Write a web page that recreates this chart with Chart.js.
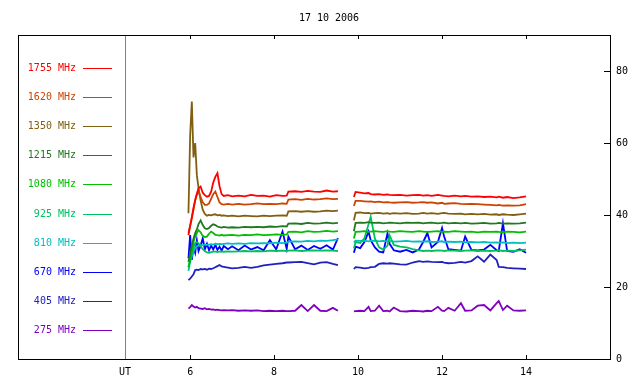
<!DOCTYPE html>
<html>
<head>
<meta charset="utf-8">
<script src="https://cdn.jsdelivr.net/npm/chart.js@4"></script>
<style>
  body { margin: 0; background: #fff; }
</style>
</head>
<body>
<canvas id="grafico" width="640" height="384"></canvas>
<script>
// ======================
// Dados (UT em horas, fluxo em sfu)
// ======================
const titulo = "17 10 2006";
const xTicks = [6, 8, 10, 12, 14];
const yTicks = [0, 20, 40, 60, 80];
const posUT = 4.45; // onde fica o rótulo "UT" / linha separadora

const tempos = [
  5.96, 6.0, 6.04, 6.08, 6.12, 6.16, 6.2, 6.25, 6.3, 6.35,
  6.4, 6.45, 6.5, 6.55, 6.6, 6.65, 6.7, 6.75, 6.8, 6.9,
  7.0, 7.15, 7.3, 7.45, 7.6, 7.75, 7.9, 8.05, 8.2, 8.3,
  8.34, 8.5, 8.65, 8.8, 8.95, 9.1, 9.25, 9.4, 9.52, 9.7,
  9.9, 9.94, 10.05, 10.15, 10.25, 10.3, 10.4, 10.5, 10.6, 10.7,
  10.75, 10.85, 11.0, 11.15, 11.3, 11.45, 11.55, 11.65, 11.75, 11.9,
  12.0, 12.05, 12.15, 12.3, 12.45, 12.55, 12.7, 12.85, 13.0, 13.15,
  13.3, 13.35, 13.45, 13.55, 13.7, 13.85, 14.0
];

const f1755 = [
  34.4, 37, 39.5, 42, 44.2, 46, 47.4, 47.9, 46.2, 45.5,
  45.1, 45.3, 46.5, 49, 50.6, 51.6, 48, 45.8, 45.3, 45.5,
  45.2, 45.4, 45.2, 45.6, 45.3, 45.4, 45.1, 45.5, 45.3, 45.4,
  46.5, 46.6, 46.4, 46.7, 46.5, 46.4, 46.8, 46.5, 46.6, null,
  45.0, 46.4, 46.2, 46.0, 46.1, 45.8, 45.7, 45.8, 45.6, 45.7,
  45.6, 45.5, 45.6, 45.4, 45.5, 45.6, 45.4, 45.5, 45.3, 45.6,
  45.4, 45.3, 45.2, 45.4, 45.2, 45.3, 45.1, 45.2, 45.0, 45.1,
  44.9, 45.1, 44.8, 45.0, 44.7, 44.9, 45.2
];
const f1620 = [
  35, 37, 39, 41.5, 44, 45.6, 46.5, 45, 43.5, 42.8,
  42.8, 43.2, 44.5, 45.8, 46.5, 45, 43.5, 43.0, 42.9, 43.1,
  42.9, 43.1, 42.9, 43.0, 43.2, 43.0, 43.1, 43.0, 43.2, 43.1,
  44.3, 44.4, 44.2, 44.5, 44.3, 44.4, 44.6, 44.4, 44.5, null,
  42.5, 43.9, 43.9, 43.8, 43.7, 43.8, 43.6, 43.7, 43.5, 43.6,
  43.5, 43.4, 43.5, 43.6, 43.4, 43.5, 43.6, 43.4, 43.5, 43.2,
  43.4, 43.1, 43.2, 43.3, 43.1, 43.0, 43.1, 43.0, 42.9, 42.8,
  42.7, 42.8, 42.6, 42.7, 42.6, 42.7, 43.0
];
const f1350 = [
  40.5, 62, 71.5, 56, 60, 51, 47.5, 44, 41.5, 40.3,
  39.8, 40.0, 39.9, 40.1, 40.2, 39.9, 40.0, 39.8, 39.9, 39.7,
  39.8, 39.6, 39.8, 39.7, 39.6, 39.8, 39.7, 39.8, 39.9, 39.8,
  41.0, 41.1, 40.9, 41.1, 40.9, 41.0, 41.2, 41.1, 41.2, null,
  38.5, 40.6, 40.7, 40.5, 40.6, 40.4, 40.5, 40.6, 40.4, 40.5,
  40.3, 40.5, 40.4, 40.5, 40.3, 40.4, 40.6, 40.4, 40.5, 40.3,
  40.5, 40.6, 40.4, 40.3, 40.4, 40.2, 40.3, 40.2, 40.3, 40.1,
  40.2, 40.0, 40.2, 40.1, 40.0, 40.2, 40.4
];
const f1215 = [
  27, 29.5, 31.5, 33.5, 35, 36, 37.5, 38.5, 37.2, 36.3,
  36.1, 36.4, 37.0, 37.4, 37.2, 36.8, 36.6, 36.5, 36.7, 36.5,
  36.6, 36.5, 36.7, 36.6, 36.7, 36.6, 36.8, 36.7, 36.9, 36.8,
  37.6, 37.7, 37.5, 37.8, 37.6, 37.7, 37.9, 37.7, 37.8, null,
  35.5, 37.8, 37.9, 37.8, 38.0, 37.9, 37.8, 37.9, 37.7, 37.8,
  37.9, 37.8, 37.7, 37.9, 37.8, 37.9, 37.7, 37.8, 37.9, 37.7,
  37.8, 37.9, 37.7, 37.8, 37.7, 37.8, 37.6, 37.7, 37.8, 37.6,
  37.7, 37.8, 37.6, 37.7, 37.6, 37.7, 37.9
];
const f1080 = [
  25.5, 27.5, 30, 32.5, 34, 35, 35.8, 35.2, 34.2, 33.9,
  34.0, 34.8, 35.4, 35.0, 34.5, 34.4, 34.3, 34.5, 34.3, 34.4,
  34.5, 34.3, 34.5, 34.4, 34.6, 34.4, 34.5, 34.6, 34.5, 34.6,
  35.3, 35.4, 35.2, 35.5, 35.3, 35.4, 35.6, 35.4, 35.5, null,
  33.5, 35.3, 35.4, 35.5, 35.3, 35.4, 35.5, 35.4, 35.3, 35.5,
  35.4, 35.3, 35.5, 35.4, 35.3, 35.5, 35.4, 35.3, 35.4, 35.5,
  35.3, 35.4, 35.3, 35.5, 35.4, 35.3, 35.4, 35.2, 35.4, 35.3,
  35.4, 35.3, 35.2, 35.4, 35.3, 35.2, 35.4
];
const f925 = [
  25.5, 27.5, 29.5, 31, 32.2, 32.5, 32.1, 31.3, 30.5, 30.0,
  29.6, 29.5, 29.7, 29.8, 29.8, 29.7, 29.8, 29.9, 29.8, 29.9,
  29.8, 29.9, 30.0, 29.9, 30.0, 29.9, 30.1, 30.0, 30.1, 30.0,
  30.1, 30.2, 30.0, 30.1, 30.2, 30.1, 30.2, 30.1, 30.0, null,
  30.7, 32.5, 32.2, 33.5, 37.5, 39.5, 33.5, 31.0, 30.4, 31.5,
  34.4, 31.7, 31.2, 31.0, 30.5, 30.2, 30.0, 30.1, 30.0, 30.2,
  30.1, 30.0, 30.2, 30.1, 30.0, 30.1, 30.2, 30.0, 30.1, 30.0,
  30.1, 30.2, 30.0, 30.1, 30.0, 30.2, 30.4
];
const f810 = [
  24.5, 27, 28.5, 29.8, 30.8, 31.3, 31.6, 31.7, 31.6, 31.8,
  31.7, 31.8, 31.9, 31.8, 32.0, 31.9, 32.0, 31.9, 32.0, 32.1,
  32.0, 32.1, 32.0, 32.2, 32.1, 32.2, 32.1, 32.3, 32.2, 32.3,
  32.6, 32.7, 32.6, 32.8, 32.7, 32.9, 32.8, 33.0, 33.2, null,
  32.4, 32.9, 32.8, 32.9, 32.7, 32.8, 32.9, 32.7, 32.8, 32.7,
  32.8, 32.6, 32.7, 32.8, 32.6, 32.7, 32.6, 32.7, 32.5, 32.6,
  32.7, 32.5, 32.6, 32.5, 32.6, 32.4, 32.5, 32.4, 32.5, 32.3,
  32.4, 32.3, 32.4, 32.2, 32.3, 32.2, 32.3
];
const f670 = [
  28, 34.4, 27.5, 31, 29.5, 33, 30, 31.5, 33.5, 30.5,
  32, 30.2, 31.5, 30.4, 31.7, 30.3, 31.2, 30.1, 31.4, 30.5,
  31.3, 30.2, 31.5, 30.4, 31.1, 30.2, 33.0, 30.5, 35.4, 30.6,
  34.0, 30.5, 31.5, 30.3, 31.4, 30.6, 31.6, 30.4, 33.6, null,
  29.5, 31.2, 30.8, 32.5, 35.4, 33.0, 31.0, 29.8, 29.6, 34.9,
  32.0, 30.2, 29.8, 30.3, 29.6, 30.4, 32.5, 35.0, 31.0, 32.5,
  36.4, 34.0, 30.5, 30.3, 30.1, 34.0, 30.3, 30.2, 30.4, 31.7,
  30.2, 30.0, 37.7, 30.0, 29.8, 30.5, 29.5
];
const f405 = [
  21.9, 22.3, 22.9, 23.5, 24.7, 24.8, 24.7, 25.0, 24.9, 25.0,
  24.8, 25.1, 25.0, 25.2, 25.5, 25.8, 26.1, 25.7, 25.6, 25.4,
  25.2, 25.3, 25.6, 25.3, 25.6, 26.0, 26.2, 26.4, 26.6, 26.8,
  26.8, 26.9, 27.0, 26.6, 26.3, 26.8, 26.9, 26.4, 26.1, null,
  25.0, 25.5, 25.4, 25.2, 25.3, 25.5, 25.6, 26.4, 26.6, 26.5,
  26.6, 26.5, 26.3, 26.2, 26.8, 27.2, 27.0, 27.1, 27.0, 26.9,
  27.0, 26.8, 26.6, 26.7, 27.0, 26.8, 27.2, 28.5, 27.0, 29.0,
  27.5, 25.6, 25.5, 25.3, 25.2, 25.1, 25.0
];
const f275 = [
  14.0, 14.4, 15.0, 14.6, 14.3, 14.5, 14.1, 14.0, 13.9, 14.1,
  13.8, 13.9, 13.7, 13.8, 13.6, 13.7, 13.6, 13.5, 13.6, 13.5,
  13.6, 13.4, 13.5, 13.4, 13.5, 13.3, 13.4, 13.3, 13.4, 13.3,
  13.3, 13.4, 15.0, 13.3, 15.0, 13.4, 13.3, 14.2, 13.4, null,
  13.2, 13.3, 13.4, 13.3, 14.5, 13.3, 13.4, 14.8, 13.3, 13.4,
  13.2, 14.3, 13.3, 13.2, 13.4, 13.3, 13.2, 13.4, 13.3, 14.5,
  13.4, 13.3, 14.2, 13.4, 15.5, 13.4, 13.5, 14.8, 15.0, 13.5,
  15.5, 16.1, 13.6, 14.8, 13.5, 13.4, 13.5
];

const frequencias = ["1755 MHz", "1620 MHz", "1350 MHz", "1215 MHz", "1080 MHz",
                     "925 MHz", "810 MHz", "670 MHz", "405 MHz", "275 MHz"];
const series = [f1755, f1620, f1350, f1215, f1080, f925, f810, f670, f405, f275];
const cores = ["#ff0000", "#cc4400", "#806010", "#207820", "#00c000",
               "#00c060", "#00c0c0", "#0000ff", "#2020c0", "#8000c0"];

const FONTE = "DejaVu Sans Mono";

// ======================
// Moldura, marcas internas e legenda à esquerda
// ======================
const painel = {
  id: "painel",
  afterDraw(chart) {
    const { ctx, chartArea: a, scales: { x, y } } = chart;
    ctx.save();
    ctx.lineWidth = 1;

    // linha cinza que separa a legenda
    const ux = Math.round(x.getPixelForValue(posUT)) + 0.5;
    ctx.strokeStyle = "#808080";
    ctx.beginPath();
    ctx.moveTo(ux, a.top);
    ctx.lineTo(ux, a.bottom);
    ctx.stroke();

    // moldura
    ctx.strokeStyle = "#000";
    ctx.strokeRect(a.left + 0.5, a.top + 0.5, a.right - a.left, a.bottom - a.top);

    // marcas para dentro
    ctx.beginPath();
    xTicks.forEach((v) => {
      const px = Math.round(x.getPixelForValue(v)) + 0.5;
      ctx.moveTo(px, a.bottom); ctx.lineTo(px, a.bottom - 4);
      ctx.moveTo(px, a.top); ctx.lineTo(px, a.top + 4);
    });
    yTicks.forEach((v) => {
      const py = Math.round(y.getPixelForValue(v)) + 0.5;
      ctx.moveTo(a.right, py); ctx.lineTo(a.right - 6, py);
    });
    ctx.stroke();

    // legenda
    ctx.font = "10px '" + FONTE + "'";
    ctx.textAlign = "right";
    ctx.textBaseline = "middle";
    chart.data.datasets.forEach((ds, i) => {
      const ly = Math.round(a.top + 33 + i * 29.1) + 0.5;
      ctx.fillStyle = ds.borderColor;
      ctx.fillText(ds.label, 76, ly);
      ctx.strokeStyle = ds.borderColor;
      ctx.beginPath();
      ctx.moveTo(83, ly);
      ctx.lineTo(112, ly);
      ctx.stroke();
    });
    ctx.restore();
  }
};

new Chart(document.getElementById("grafico"), {
  type: "line",
  data: {
    datasets: series.map((vals, i) => ({
      label: frequencias[i],
      data: vals.map((v, k) => ({ x: tempos[k], y: v })),
      borderColor: cores[i],
      borderWidth: 1.8,
      pointRadius: 0,
      tension: 0,
      spanGaps: false,
      fill: false
    }))
  },
  options: {
    responsive: false,
    animation: false,
    layout: { padding: { left: 18, right: 0, top: 0, bottom: 0 } },
    plugins: {
      legend: { display: false },
      tooltip: { enabled: false },
      title: {
        display: true,
        text: titulo,
        color: "#000",
        font: { family: FONTE, size: 10, weight: "normal" },
        padding: { top: 12, bottom: 11 }
      }
    },
    scales: {
      x: {
        type: "linear",
        min: 1.9,
        max: 16,
        grid: { display: false, drawTicks: false },
        border: { display: false },
        afterBuildTicks: (s) => { s.ticks = [posUT, ...xTicks].map((v) => ({ value: v })); },
        afterFit: (s) => { s.height = 25; },
        ticks: {
          autoSkip: false,
          maxRotation: 0,
          padding: 7,
          color: "#000",
          font: { family: FONTE, size: 10 },
          callback: (v) => (v === posUT ? "UT" : v)
        }
      },
      y: {
        position: "right",
        min: 0,
        max: 90,
        grid: { display: false, drawTicks: false },
        border: { display: false },
        afterBuildTicks: (s) => { s.ticks = yTicks.map((v) => ({ value: v })); },
        afterFit: (s) => { s.width = 30; },
        ticks: {
          padding: 6,
          color: "#000",
          font: { family: FONTE, size: 10 }
        }
      }
    }
  },
  plugins: [painel]
});
</script>
</body>
</html>
